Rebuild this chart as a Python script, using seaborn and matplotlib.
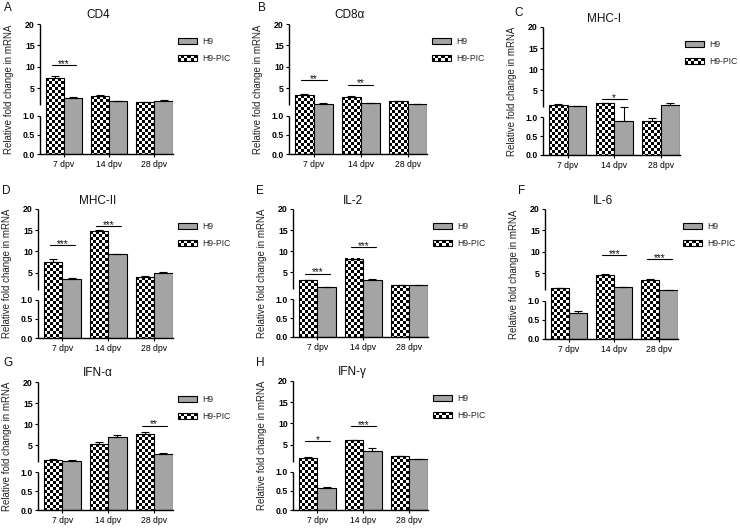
import numpy as np
import pandas as pd
import matplotlib
matplotlib.use("Agg")
import matplotlib.pyplot as plt
import seaborn as sns
from matplotlib.patches import Rectangle, Patch
from matplotlib.legend_handler import HandlerBase
from matplotlib.image import BboxImage
from matplotlib.transforms import Bbox
from matplotlib.colors import Normalize

# ---------------- data ----------------
days = ["7 dpv", "14 dpv", "28 dpv"]
groups = ["H9-PIC", "H9"]

cd4_pic = [7.3, 3.1, 1.65]
cd4_pic_err = [0.5, 0.4, 0.1]
cd4_h9 = [2.8, 1.9, 2.1]
cd4_h9_err = [0.1, 0.05, 0.1]
cd4_sig = [(0, "***", 10.4)]

cd8_pic = [3.45, 2.95, 1.9]
cd8_pic_err = [0.25, 0.2, 0.15]
cd8_h9 = [1.4, 1.55, 1.35]
cd8_h9_err = [0.03, 0.03, 0.03]
cd8_sig = [(0, "**", 6.9), (1, "**", 5.8)]

mhc1_pic = [1.55, 1.95, 0.9]
mhc1_pic_err = [0.1, 0.1, 0.08]
mhc1_h9 = [1.25, 0.91, 1.55]
mhc1_h9_err = [0.03, 0.13, 0.3]
mhc1_sig = [(1, "*", 2.8)]

mhc2_pic = [7.6, 14.7, 4.05]
mhc2_pic_err = [0.5, 0.25, 0.1]
mhc2_h9 = [3.6, 9.35, 4.9]
mhc2_h9_err = [0.1, 0.15, 0.2]
mhc2_sig = [(0, "***", 11.5), (1, "***", 16.0)]

il2_pic = [3.15, 8.1, 1.95]
il2_pic_err = [0.1, 0.05, 0.05]
il2_h9 = [1.55, 3.15, 1.95]
il2_h9_err = [0.03, 0.15, 0.05]
il2_sig = [(0, "***", 4.6), (1, "***", 10.9)]

il6_pic = [1.45, 4.55, 3.5]
il6_pic_err = [0.05, 0.3, 0.15]
il6_h9 = [0.67, 1.67, 1.1]
il6_h9_err = [0.07, 0.1, 0.05]
il6_sig = [(1, "***", 9.2), (2, "***", 8.3)]

ifna_pic = [1.55, 5.2, 7.6]
ifna_pic_err = [0.05, 0.5, 0.45]
ifna_h9 = [1.35, 7.0, 3.0]
ifna_h9_err = [0.03, 0.3, 0.03]
ifna_sig = [(2, "**", 9.6)]

ifng_pic = [1.8, 6.1, 2.4]
ifng_pic_err = [0.2, 0.05, 0.03]
ifng_h9 = [0.58, 3.6, 1.6]
ifng_h9_err = [0.02, 0.5, 0.03]
ifng_sig = [(0, "*", 5.8), (1, "***", 9.3)]

titles = ["CD4", "CD8α", "MHC-I", "MHC-II", "IL-2", "IL-6", "IFN-α", "IFN-γ"]
letters = ["A", "B", "C", "D", "E", "F", "G", "H"]
ytick_vals = [0, 0.5, 1.0, 5, 10, 15, 20]
ytick_labels = ["0.0", "0.5", "1.0", "5", "10", "15", "20"]
ylabel = "Relative fold change in mRNA"

series = [
    (cd4_pic, cd4_pic_err, cd4_h9, cd4_h9_err, cd4_sig),
    (cd8_pic, cd8_pic_err, cd8_h9, cd8_h9_err, cd8_sig),
    (mhc1_pic, mhc1_pic_err, mhc1_h9, mhc1_h9_err, mhc1_sig),
    (mhc2_pic, mhc2_pic_err, mhc2_h9, mhc2_h9_err, mhc2_sig),
    (il2_pic, il2_pic_err, il2_h9, il2_h9_err, il2_sig),
    (il6_pic, il6_pic_err, il6_h9, il6_h9_err, il6_sig),
    (ifna_pic, ifna_pic_err, ifna_h9, ifna_h9_err, ifna_sig),
    (ifng_pic, ifng_pic_err, ifng_h9, ifng_h9_err, ifng_sig),
]

# ---------------- layout (pixels) ----------------
W, H = 740, 528
boxes = [(40, 173, 24, 154), (289, 427, 24, 154), (543, 680, 27, 155),
         (38, 173, 209, 338), (293, 428, 209, 337), (545, 678, 209, 339),
         (38, 173, 382, 510), (293, 428, 381, 510)]
letter_pos = [(8, 8), (262, 8), (519, 13), (6, 191), (260, 191), (522, 191),
              (8, 363), (260, 363)]

GRAY = "#a4a4a4"
INK = "#111111"
CELL = 3
LOW, GAP = 0.295, 0.08
UP = 1.0 - LOW - GAP


def fwd(v):
    v = np.asarray(v, dtype=float)
    return np.where(v <= 1.0, v * LOW, LOW + GAP + (v - 1.0) * UP / 19.0)


def inv(y):
    y = np.asarray(y, dtype=float)
    return np.where(y <= LOW, y / LOW,
                    np.where(y < LOW + GAP, 1.0, 1.0 + (y - LOW - GAP) * 19.0 / UP))


class CheckerKey(Patch):
    pass


class CheckerHandler(HandlerBase):
    def create_artists(self, legend, orig_handle, xdescent, ydescent,
                       width, height, fontsize, trans):
        x0, y0 = -xdescent, -ydescent
        arts = [Rectangle((x0, y0), width, height, facecolor="white",
                          edgecolor="none", transform=trans)]
        nrow, ncol = 2, 6
        cw, ch = width / ncol, height / nrow
        for i in range(nrow):
            for j in range(ncol):
                if (i + j) % 2 == 0:
                    arts.append(Rectangle((x0 + j * cw, y0 + i * ch), cw, ch,
                                          facecolor="black", edgecolor="none",
                                          transform=trans))
        arts.append(Rectangle((x0, y0), width, height, facecolor="none",
                              edgecolor="black", linewidth=0.8, transform=trans))
        return arts


sns.set_theme(style="ticks")
plt.rcParams["font.family"] = ["Liberation Sans", "DejaVu Sans"]

fig = plt.figure(figsize=(W / 100, H / 100), dpi=100)

for k, (pic, pic_err, h9, h9_err, sig) in enumerate(series):
    l, r, t, b = boxes[k]
    ax = fig.add_axes([l / W, 1 - b / H, (r - l) / W, (b - t) / H])
    df = pd.DataFrame({"day": days * 2,
                       "group": [groups[0]] * 3 + [groups[1]] * 3,
                       "value": list(pic) + list(h9)})
    sns.barplot(data=df, x="day", y="value", hue="group", order=days,
                hue_order=groups, palette={groups[0]: "white", groups[1]: GRAY},
                edgecolor="black", linewidth=0.8, width=0.8, errorbar=None,
                saturation=1, legend=False, ax=ax)
    ax.set_yscale("function", functions=(fwd, inv))
    ax.set_ylim(0, 20)
    ax.set_xlim(-0.53, 2.41)

    # error bars (upper only)
    for cont, vals, errs in zip(ax.containers, [pic, h9], [pic_err, h9_err]):
        xs = [p.get_x() + p.get_width() / 2 for p in cont]
        ax.errorbar(xs, vals, yerr=[np.zeros(len(vals)), errs], fmt="none",
                    ecolor="black", elinewidth=0.8, capsize=3.2, capthick=0.8,
                    zorder=3)

    # axes styling
    for s in ["top", "right", "left"]:
        ax.spines[s].set_visible(False)
    ax.spines["bottom"].set_linewidth(1.0)
    ax.spines["bottom"].set_color("black")
    ax.plot([0, 0], [0, LOW], transform=ax.transAxes, color="black", lw=1.0,
            clip_on=False, solid_capstyle="butt")
    ax.plot([0, 0], [LOW + GAP, 1], transform=ax.transAxes, color="black",
            lw=1.0, clip_on=False, solid_capstyle="butt")
    ax.set_yticks(ytick_vals)
    ax.set_yticklabels(ytick_labels, fontweight="bold")
    ax.yaxis.set_minor_locator(matplotlib.ticker.NullLocator())
    ax.tick_params(axis="y", direction="out", length=2.2, width=0.8, pad=1.5,
                   labelsize=6.3, colors="black", left=True)
    ax.tick_params(axis="x", direction="out", length=2.2, width=0.8, pad=1.8,
                   labelsize=6.2, colors="black", bottom=True)
    ax.set_xlabel("")
    ax.set_ylabel("")
    ax.patch.set_alpha(0)

    # significance bars
    for gi, lab, yv in sig:
        ax.plot([gi - 0.27, gi + 0.27], [yv, yv], color="black", lw=0.8)
        ax.annotate(lab, xy=(gi, yv), xytext=(0, 1.0), textcoords="offset points",
                    ha="center", va="center", fontsize=7.2, color=INK)

    # checker fill for H9-PIC bars
    for p in ax.containers[0]:
        bb = p.get_window_extent()
        w = max(int(round(bb.x1 - bb.x0)), 1)
        h = max(int(round(bb.y1 - bb.y0)), 1)
        ii, jj = np.indices((h, w))
        arr = ((ii // CELL + jj // CELL) % 2).astype(float)
        img = BboxImage(Bbox.from_extents(bb.x0, bb.y0, bb.x0 + w, bb.y0 + h),
                        cmap="gray", norm=Normalize(0, 1),
                        interpolation="nearest", origin="upper")
        img.set_data(arr)
        img.set_zorder(0.9)
        img.set_clip_path(p)
        ax.add_artist(img)
        p.set_facecolor("none")

    # legend
    h_h9 = Patch(facecolor=GRAY, edgecolor="black", linewidth=0.8)
    h_pic = CheckerKey(facecolor="white", edgecolor="black")
    ax.legend([h_h9, h_pic], ["H9", "H9-PIC"],
              handler_map={CheckerKey: CheckerHandler()},
              loc="upper left", bbox_to_anchor=((r + 5) / W, 1 - (t + 13) / H),
              bbox_transform=fig.transFigure, frameon=False, fontsize=6.2,
              handlelength=2.2, handleheight=0.72, handletextpad=0.6,
              labelspacing=0.95, borderpad=0, borderaxespad=0)

    # texts
    fig.text(((l + r) / 2 - 8) / W, 1 - (t - 8.5) / H, titles[k], ha="center",
             va="center", fontsize=8.5, color=INK)
    fig.text((l - 31) / W, 1 - ((t + b) / 2) / H, ylabel, rotation=90,
             ha="center", va="center", fontsize=7.0, color="#222222")
    lx, ly = letter_pos[k]
    fig.text(lx / W, 1 - ly / H, letters[k], ha="center", va="center",
             fontsize=8.5, color=INK)

fig.savefig("out.png", dpi=100)
